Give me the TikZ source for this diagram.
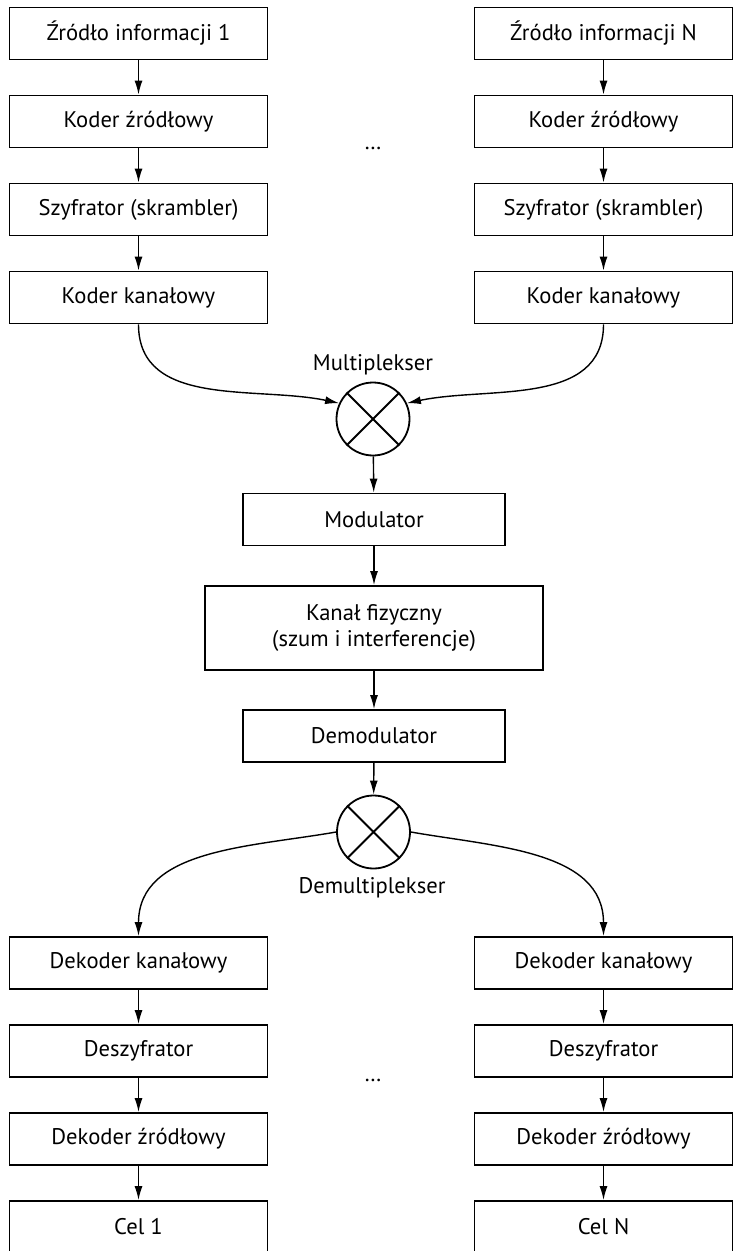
\documentclass[tikz,border=0pt]{standalone}
\usepackage{fontspec}
\setmainfont{PT Sans}
\usetikzlibrary{arrows.meta}

\begin{document}
\begin{tikzpicture}[x=0.5pt,y=-0.5pt,
            blok/.style={draw,line width=0.9pt,minimum width=129pt,minimum height=26pt,inner sep=0pt,align=center,font=\fontsize{11.3}{13}\selectfont},
            srodek/.style={blok,minimum width=131pt},
            krzyz/.style={draw,circle,line width=0.9pt,minimum size=36.5pt,inner sep=0pt},
            opis/.style={font=\fontsize{11.3}{13}\selectfont},
            strz/.style={-{Latex[length=7pt,width=4pt]},line width=0.7pt}]
            \useasboundingbox (0,0) rectangle (734,1251);
            \clip (0,0) rectangle (734,1251);
            % nadajniki
            \node[blok] (zr1) at (138.5,33.5) {Źródło informacji 1};
            \node[blok] (ks1) at (138.5,121.5) {Koder źródłowy};
            \node[blok] (sz1) at (138.5,209.5) {Szyfrator (skrambler)};
            \node[blok] (kk1) at (138.5,297.5) {Koder kanałowy};
            \node[blok] (zrN) at (603.5,33.5) {Źródło informacji N};
            \node[blok] (ksN) at (603.5,121.5) {Koder źródłowy};
            \node[blok] (szN) at (603.5,209.5) {Szyfrator (skrambler)};
            \node[blok] (kkN) at (603.5,297.5) {Koder kanałowy};
            \node[opis] (kropki1) at (373,148) {\dots};
            % kanal
            \node[krzyz] (mux) at (373,419) {};
            \node[opis] (muxl) at (373,365) {Multiplekser};
            \node[srodek] (mod) at (374,519.5) {Modulator};
            \node[blok,minimum width=169pt,minimum height=42pt] (kan) at (374,628) {Kanał fizyczny\\(szum i interferencje)};
            \node[srodek] (dem) at (374,736) {Demodulator};
            \node[krzyz] (dmx) at (373.5,832) {};
            \node[opis] (dmxl) at (372,888) {Demultiplekser};
            % odbiorniki
            \node[blok] (dk1) at (138.5,963) {Dekoder kanałowy};
            \node[blok] (ds1) at (138.5,1051) {Deszyfrator};
            \node[blok] (dz1) at (138.5,1139) {Dekoder źródłowy};
            \node[blok] (cel1) at (138.5,1227) {Cel 1};
            \node[blok] (dkN) at (603.5,963) {Dekoder kanałowy};
            \node[blok] (dsN) at (603.5,1051) {Deszyfrator};
            \node[blok] (dzN) at (603.5,1139) {Dekoder źródłowy};
            \node[blok] (celN) at (603.5,1227) {Cel N};
            \node[opis] (kropki2) at (373,1080) {\dots};
            % krzyzyki w kolkach
            \draw[line width=0.9pt] (mux.45) -- (mux.225) (mux.135) -- (mux.315);
            \draw[line width=0.9pt] (dmx.45) -- (dmx.225) (dmx.135) -- (dmx.315);
            % strzalki
            \draw[strz] (zr1) -- (ks1);
            \draw[strz] (ks1) -- (sz1);
            \draw[strz] (sz1) -- (kk1);
            \draw[strz] (zrN) -- (ksN);
            \draw[strz] (ksN) -- (szN);
            \draw[strz] (szN) -- (kkN);
            \draw[strz] (kk1.south) to[out=-90,in=168] (mux.155);
            \draw[strz] (kkN.south) to[out=-90,in=12] (mux.25);
            \draw[strz] (mux) -- (mod);
            \draw[strz] (mod) -- (kan);
            \draw[strz] (kan) -- (dem);
            \draw[strz] (dem) -- (dmx);
            \draw[strz] (dmx.west) to[out=190,in=90] (dk1.north);
            \draw[strz] (dmx.east) to[out=-10,in=90] (dkN.north);
            \draw[strz] (dk1) -- (ds1);
            \draw[strz] (ds1) -- (dz1);
            \draw[strz] (dz1) -- (cel1);
            \draw[strz] (dkN) -- (dsN);
            \draw[strz] (dsN) -- (dzN);
            \draw[strz] (dzN) -- (celN);
            \end{tikzpicture}
\end{document}
